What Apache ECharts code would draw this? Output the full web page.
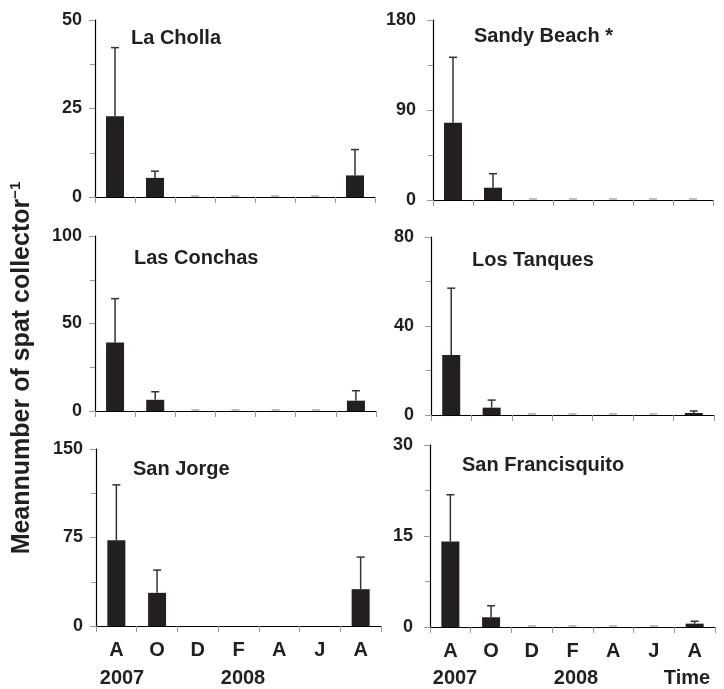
<!DOCTYPE html>
<html>
<head>
<meta charset="utf-8">
<script src="https://cdn.jsdelivr.net/npm/echarts@6/dist/echarts.min.js"></script>
<style>html,body{margin:0;padding:0;background:#fff;}#c{width:724px;height:689px;}</style>
</head>
<body>
<div id="c"></div>
<script>
// ---- data ----
const categories = ['A', 'O', 'D', 'F', 'A', 'J', 'A'];
const siteNames = ['La Cholla', 'Sandy Beach *', 'Las Conchas', 'Los Tanques', 'San Jorge', 'San Francisquito'];
const yMax = [50, 180, 100, 80, 150, 30];

const laCholla = [22.8, 5.4, 0, 0, 0, 0, 6.1];
const laChollaErr = [19.4, 1.9, 0, 0, 0, 0, 7.3];
const sandyBeach = [77.3, 12.3, 0, 0, 0, 0, 0];
const sandyBeachErr = [65.4, 14.0, 0, 0, 0, 0, 0];
const lasConchas = [39.1, 6.4, 0, 0, 0, 0, 5.9];
const lasConchasErr = [25.1, 4.6, 0, 0, 0, 0, 5.7];
const losTanques = [27.0, 3.3, 0, 0, 0, 0, 0.9];
const losTanquesErr = [30.0, 3.4, 0, 0, 0, 0, 0.9];
const sanJorge = [72.6, 28.1, 0, 0, 0, 0, 31.2];
const sanJorgeErr = [47.0, 19.3, null, null, null, null, 27.2];
const sanFrancisquito = [14.1, 1.6, 0, 0, 0, 0, 0.55];
const sanFrancisquitoErr = [7.7, 1.9, 0, 0, 0, 0, 0.4];

const yearLabels = ['2007', '2008'];
const timeLabel = 'Time';
const yAxisTitle = 'Meannumber of spat collector';
const yAxisSup = '\u22121';

const means = [laCholla, sandyBeach, lasConchas, losTanques, sanJorge, sanFrancisquito];
const errs = [laChollaErr, sandyBeachErr, lasConchasErr, losTanquesErr, sanJorgeErr, sanFrancisquitoErr];

// ---- layout ----
const grids = [
  {left: 95, top: 20, width: 280, height: 177},
  {left: 433, top: 20, width: 280, height: 180},
  {left: 95, top: 236, width: 281, height: 175},
  {left: 431, top: 237, width: 283, height: 178},
  {left: 96, top: 449, width: 285, height: 177},
  {left: 430, top: 445, width: 285, height: 182}
];
const titlePos = [[131, 38], [474, 36], [134, 258], [472, 260], [133, 469], [462, 465]];
const FONT = '"Liberation Sans", Arial, sans-serif';
const DARK = '#231f20';

const chart = echarts.init(document.getElementById('c'), null, {renderer: 'canvas'});

const xAxes = grids.map((g, i) => ({
  type: 'category', gridIndex: i, data: categories, boundaryGap: true,
  axisLine: {lineStyle: {color: '#000', width: 1.2}},
  axisTick: {show: true, interval: 0, length: 6, lineStyle: {color: '#999'}},
  axisLabel: {show: i >= 4, interval: 0, margin: 14, fontFamily: FONT, fontWeight: 'bold', fontSize: 20, color: DARK},
  splitLine: {show: false}
}));
const yAxes = grids.map((g, i) => ({
  type: 'value', gridIndex: i, min: 0, max: yMax[i], interval: yMax[i] / 2,
  axisLine: {show: true, lineStyle: {color: '#000', width: 1.2}},
  axisTick: {show: true, length: 6, lineStyle: {color: '#999'}},
  minorTick: {show: true, splitNumber: 2, length: 5, lineStyle: {color: '#999'}},
  axisLabel: {margin: (i % 2 === 0) ? 13 : 17, fontFamily: FONT, fontWeight: 'bold', fontSize: 18, color: DARK},
  splitLine: {show: false}
}));

function renderErr(params, api) {
  const e = api.value(2);
  if (e === null || e === undefined || isNaN(e)) return;
  const x = api.value(0), v = api.value(1);
  const b = api.coord([x, v]);
  const t = api.coord([x, v + e]);
  const hw = 4;
  const zero = e === 0;
  const children = [];
  if (!zero) {
    children.push({type: 'line', shape: {x1: b[0], y1: b[1], x2: t[0], y2: t[1]}, style: {stroke: '#333', lineWidth: 1.5}});
  }
  children.push({type: 'line', shape: {x1: t[0] - hw, y1: t[1] - (zero ? 1 : 0), x2: t[0] + hw, y2: t[1] - (zero ? 1 : 0)},
    style: {stroke: zero ? '#aaa' : '#333', lineWidth: 1.5}});
  return {type: 'group', children: children};
}

const series = [];
means.forEach((m, i) => {
  series.push({
    type: 'bar', xAxisIndex: i, yAxisIndex: i, data: m, barWidth: 18,
    itemStyle: {color: DARK, borderWidth: 0}, silent: true, z: 2
  });
  series.push({
    type: 'custom', xAxisIndex: i, yAxisIndex: i, renderItem: renderErr, z: 3, silent: true,
    data: m.map((v, k) => [k, v, errs[i][k]])
  });
});

const graphics = siteNames.map((n, i) => ({
  type: 'text', x: titlePos[i][0], y: titlePos[i][1],
  style: {text: n, font: 'bold 20px ' + FONT, fill: DARK, textAlign: 'left', textVerticalAlign: 'middle'}
}));
const yearPos = [[122, 678], [243, 678], [455, 678], [576, 678]];
[yearLabels[0], yearLabels[1], yearLabels[0], yearLabels[1]].forEach((t, k) => {
  graphics.push({type: 'text', x: yearPos[k][0], y: yearPos[k][1],
    style: {text: t, font: 'bold 20px ' + FONT, fill: DARK, textAlign: 'center', textVerticalAlign: 'middle'}});
});
graphics.push({type: 'text', x: 687, y: 678,
  style: {text: timeLabel, font: 'bold 20px ' + FONT, fill: DARK, textAlign: 'center', textVerticalAlign: 'middle'}});
graphics.push({type: 'text', x: 22, y: 368, rotation: Math.PI / 2,
  style: {
    text: '{a|' + yAxisTitle + '}{b|' + yAxisSup + '}',
    textAlign: 'center', textVerticalAlign: 'middle',
    rich: {
      a: {fontFamily: FONT, fontWeight: 'bold', fontSize: 25, fill: DARK, lineHeight: 28, color: DARK},
      b: {fontFamily: FONT, fontWeight: 'bold', fontSize: 15, fill: DARK, color: DARK, verticalAlign: 'top', lineHeight: 28, padding: [0, 0, 10, 0]}
    }
  }});

chart.setOption({
  animation: false,
  backgroundColor: '#fff',
  grid: grids.map(g => Object.assign({containLabel: false}, g)),
  xAxis: xAxes,
  yAxis: yAxes,
  series: series,
  graphic: graphics
});
</script>
</body>
</html>
